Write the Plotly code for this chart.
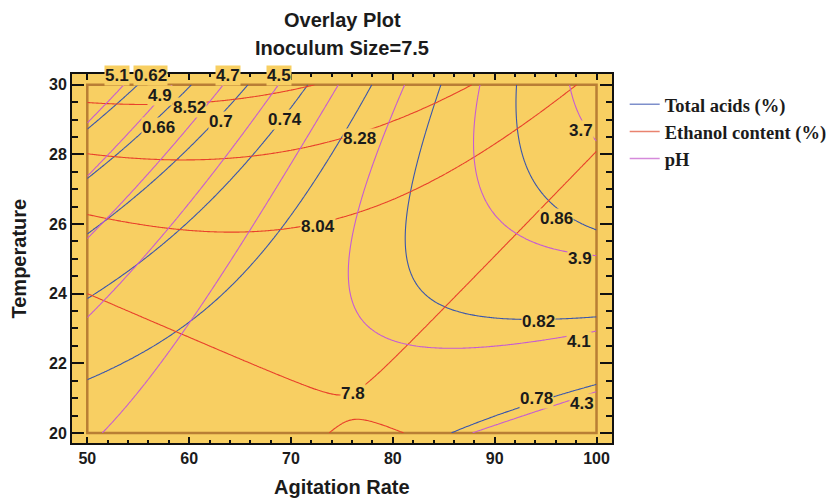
import numpy as np
import plotly.graph_objects as go

# ---------------------------------------------------------------
# Response-surface overlay: Agitation Rate vs Temperature
# (inoculum size held at 7.5)
# ---------------------------------------------------------------
agitation_range = [50, 100]
temperature_range = [20, 30]

# Points lying on iso-lines of each fitted response (level, agitation, temperature)
acids_level = [0.62, 0.62,
               0.66, 0.66,
               0.70, 0.70, 0.70,
               0.74, 0.74, 0.74, 0.74, 0.74,
               0.78, 0.78, 0.78, 0.78, 0.78, 0.78, 0.78,
               0.78, 0.78, 0.78,
               0.82, 0.82, 0.82, 0.82, 0.82, 0.82, 0.82, 0.82, 0.82, 0.82, 0.82,
               0.86, 0.86, 0.86, 0.86, 0.86, 0.86, 0.86]
acids_agit = [50, 54.7,
              50, 60.4,
              50, 55.64, 65.8,
              50, 54.66, 59.2, 63.13, 71.7,
              50, 55.64, 59.89, 65.1, 68.73, 75.12, 77.94,
              85.82, 92.5, 100,
              84.65, 83.66, 82.51, 81.53, 81.2, 82.02, 83.34, 85.3, 87.6, 91.16, 100,
              92.0, 92.1, 92.5, 93.5, 95.13, 97.74, 100]
acids_temp = [28.73, 30,
              27.29, 30,
              25.70, 26.97, 30,
              23.83, 24.79, 25.97, 26.97, 30,
              21.51, 22.38, 23.19, 24.48, 25.82, 28.58, 30,
              20, 20.75, 21.42,
              30, 28.78, 27.54, 26.39, 25.0, 24.39, 23.91, 23.57, 23.38, 23.26, 23.33,
              30, 29.27, 28.32, 27.36, 26.69, 26.12, 25.82]

# the 7.8 level has two branches: a trough across the middle and a small arc at the bottom
ethanol_level = [8.52] * 5 + [8.28] * 10 + [8.04] * 10 + [7.80] * 12 + [7.80] * 4
ethanol_agit = [50, 57.14, 63.72, 67.95, 72.53,
                50, 54.0, 58.91, 63.04, 66.31, 70.85, 74.78, 78.71, 83.99, 87.92,
                50, 58.91, 62.84, 68.73, 74.5, 81.7, 83.99, 87.92, 92.18, 98.08,
                50, 58.91, 68.73, 71.87, 74.99, 77.45, 81.04, 84.97, 87.6, 91.85, 95.13, 100,
                73.84, 76.95, 79.73, 81.53]
ethanol_temp = [29.46, 29.45, 29.59, 29.77, 30,
                28.03, 27.90, 27.82, 27.86, 28.0, 28.18, 28.43, 28.76, 29.47, 30,
                26.28, 25.84, 25.78, 25.84, 26.11, 26.88, 27.26, 27.88, 28.79, 30,
                24.0, 22.9, 21.72, 21.32, 21.13, 21.42, 22.47, 23.57, 24.39, 25.63, 26.69, 28.07,
                20.0, 20.41, 20.22, 20.0]

ph_level = ([5.1] * 2 + [4.9] * 2 + [4.7] * 4 + [4.5] * 6 + [4.3] * 7 + [4.3] * 3
            + [4.1] * 13 + [3.9] * 8 + [3.7] * 3)
ph_agit = [50, 53.4,
           50, 57.6,
           50, 54.49, 63.04, 63.6,
           50, 54.66, 61.04, 63.04, 66.31, 68.76,
           51.64, 55.64, 60.22, 65.46, 68.41, 71.22, 74.5,
           87.92, 94.15, 100,
           81.01, 80.39, 77.45, 76.79, 75.97, 75.54, 76.3, 77.77, 81.04, 84.32, 87.6, 94.47, 100,
           88.25, 87.76, 87.89, 88.57, 90.54, 93.16, 97.09, 100,
           97.09, 98.9, 100]
ph_temp = [28.78, 30,
           27.38, 30,
           25.59, 26.97, 29.58, 30,
           23.3, 24.79, 26.97, 27.86, 29.0, 30,
           20, 21.32, 23.24, 26.03, 26.97, 28.14, 30,
           20, 20.65, 21.18,
           30, 28.79, 27.26, 26.49, 25.82, 24.58, 23.62, 23.05, 22.57, 22.43, 22.43, 22.61, 22.9,
           30, 28.32, 27.55, 26.89, 26.2, 25.62, 25.25, 25.16,
           30, 28.99, 28.27]

# Contour levels drawn for each response: (first, last, step)
acids_levels = (0.62, 0.86, 0.04)
ethanol_levels = (7.80, 8.52, 0.24)
ph_levels = (3.7, 5.1, 0.2)

series_names = ["Total acids (%)", "Ethanol content (%)", "pH"]
series_colors = ["#3A56AC", "#E8412B", "#C65CD2"]
legend_colors = ["#7E8FCB", "#E9836F", "#D58ADB"]

PLOT_BG = "#F8CF62"
BORDER = "#B97E35"


def quad_terms(a, t):
    u = (np.asarray(a, float) - 75.0) / 25.0
    v = (np.asarray(t, float) - 25.0) / 5.0
    return np.column_stack([np.ones_like(u), u, v, u * u, v * v, u * v])


def fit_surface(level, agit, temp):
    coef, *_ = np.linalg.lstsq(quad_terms(agit, temp), np.asarray(level, float), rcond=None)
    return coef


gx = np.linspace(*agitation_range, 241)
gy = np.linspace(*temperature_range, 241)
GX, GY = np.meshgrid(gx, gy)


def surface_grid(coef):
    return (quad_terms(GX.ravel(), GY.ravel()) @ coef).reshape(GX.shape)


fig = go.Figure()

responses = [
    (acids_level, acids_agit, acids_temp, acids_levels),
    (ethanol_level, ethanol_agit, ethanol_temp, ethanol_levels),
    (ph_level, ph_agit, ph_temp, ph_levels),
]

for (lev, ag, tp, (c0, c1, dc)), color in zip(responses, series_colors):
    z = surface_grid(fit_surface(lev, ag, tp))
    fig.add_trace(go.Contour(
        x=gx, y=gy, z=z,
        contours=dict(coloring="lines", start=c0, end=c1 + dc * 0.01, size=dc, showlabels=False),
        colorscale=[[0, color], [1, color]],
        line=dict(width=1.1),
        showscale=False, showlegend=False, hoverinfo="skip",
    ))

# legend entries
for name, col in zip(series_names, legend_colors):
    fig.add_trace(go.Scatter(x=[None], y=[None], mode="lines", name=name,
                             line=dict(color=col, width=1.5)))

# iso-line value labels: (value, agitation, temperature)
contour_labels = [
    (5.1, 52.93, 30.28), (0.62, 56.2, 30.28), (4.7, 63.8, 30.28), (4.5, 68.83, 30.26),
    (4.9, 57.1, 29.70), (8.52, 60.04, 29.36), (0.66, 56.95, 28.77), (0.7, 63.1, 28.94),
    (0.74, 69.42, 28.99), (8.28, 76.7, 28.45), (8.04, 72.67, 25.93), (7.8, 76.13, 21.13),
    (3.7, 98.45, 28.70), (0.86, 96.1, 26.16), (3.9, 98.4, 25.0), (0.82, 94.3, 23.21),
    (4.1, 98.3, 22.63), (0.78, 94.06, 20.98), (4.3, 98.57, 20.84),
]
for val, ax_, ty in contour_labels:
    fig.add_annotation(x=ax_, y=ty, text=f"{val:g}", showarrow=False,
                       font=dict(family="Liberation Sans", size=17, color="#1b1b1b", weight="bold"),
                       bgcolor=PLOT_BG, borderpad=0)

# inner frame around the experimental region
fig.add_shape(type="rect", x0=agitation_range[0], x1=agitation_range[1],
              y0=temperature_range[0], y1=temperature_range[1],
              line=dict(color=BORDER, width=2.5), layer="below")

tick_font = dict(family="Liberation Sans", size=16, color="#1b1b1b", weight="bold")
fig.update_xaxes(
    range=[48.5, 101.52], tickvals=list(range(50, 101, 10)),
    ticks="inside", ticklen=6, tickwidth=2, tickcolor="#111",
    minor=dict(dtick=2, tick0=50, ticks="inside", ticklen=3, tickwidth=1.5, tickcolor="#111"),
    showline=True, linecolor="#111", linewidth=2, mirror="ticks",
    showgrid=False, zeroline=False, tickfont=tick_font,
)
fig.update_yaxes(
    range=[19.71, 30.31], tickvals=list(range(20, 31, 2)),
    ticks="inside", ticklen=12, tickwidth=2, tickcolor="#111",
    minor=dict(dtick=0.5, tick0=20, ticks="inside", ticklen=6, tickwidth=1.5, tickcolor="#111"),
    showline=True, linecolor="#111", linewidth=2, mirror="ticks",
    showgrid=False, zeroline=False, tickfont=tick_font,
)

title_font = dict(family="Liberation Sans", size=20, color="#1b1b1b", weight="bold")
fig.add_annotation(xref="paper", yref="paper", x=0.5, y=1.146, text="Overlay Plot",
                   showarrow=False, font=title_font, yanchor="middle")
fig.add_annotation(xref="paper", yref="paper", x=0.5, y=1.070, text="Inoculum Size=7.5",
                   showarrow=False, font=title_font, yanchor="middle")
fig.add_annotation(xref="paper", yref="paper", x=0.5, y=-0.119, text="Agitation Rate",
                   showarrow=False, font=title_font, yanchor="middle")
fig.add_annotation(xref="paper", yref="paper", x=-0.1, y=0.5, text="Temperature",
                   showarrow=False, font=title_font, textangle=-90, xanchor="center")

fig.update_layout(
    width=835, height=498,
    margin=dict(l=72, r=223, t=74, b=55, autoexpand=False),
    paper_bgcolor="white", plot_bgcolor=PLOT_BG,
    legend=dict(x=1.0235, y=0.968, xanchor="left", yanchor="top",
                font=dict(family="Liberation Serif", size=18.5, color="#1b1b1b", weight="bold"),
                bgcolor="rgba(0,0,0,0)", tracegroupgap=0, itemwidth=30),
)

fig.write_html("out.html")
